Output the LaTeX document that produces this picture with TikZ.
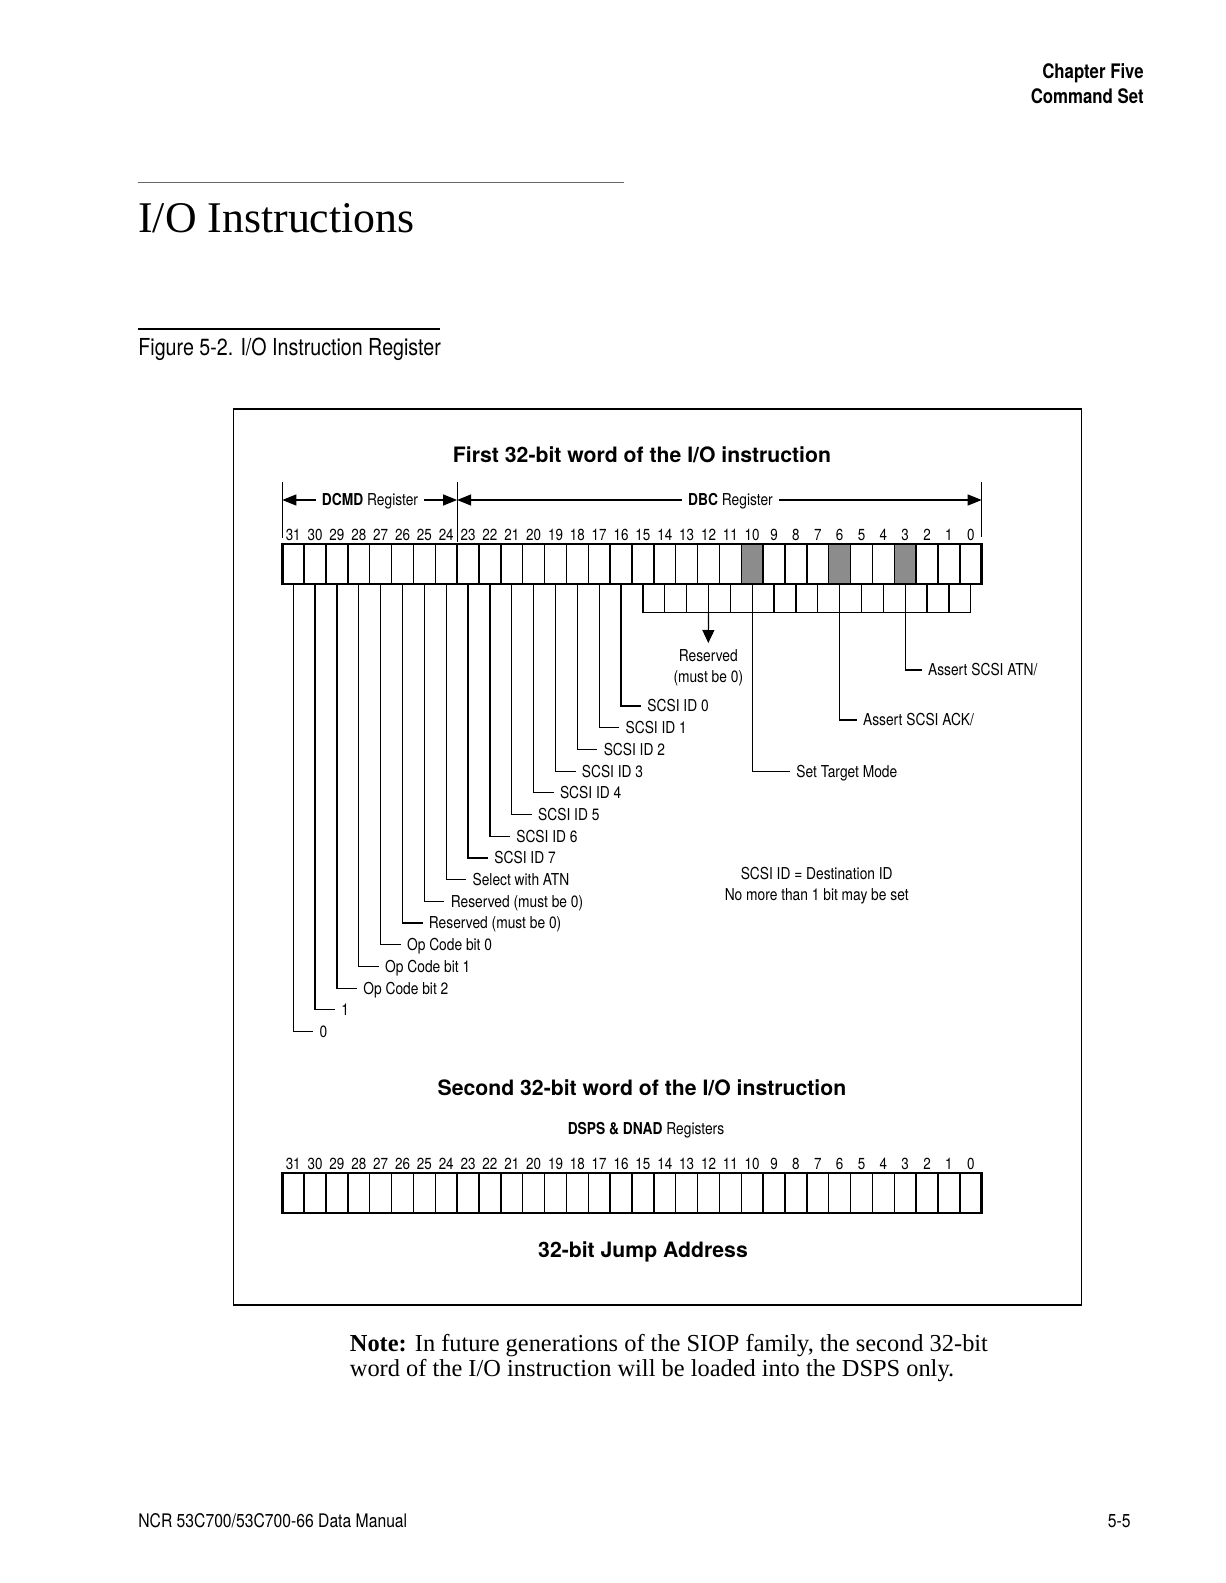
\documentclass[tikz,border=0pt]{standalone}
\usepackage{fontspec}
\setmainfont{Liberation Serif}
\newfontfamily\condfont[FakeStretch=0.84]{TeX Gyre Heros}
\newfontfamily\herosfont{TeX Gyre Heros}
\usetikzlibrary{arrows.meta}

\begin{document}
\begin{tikzpicture}[
    x=0.5pt, y=-0.5pt, >={Triangle[length=7pt,width=5.5pt]},
    cell/.style={draw, line width=0.75pt, minimum width=10.928pt, minimum height=20pt, inner sep=0pt, outer sep=0pt},
    reg/.style={draw, line width=1.3pt},
    lead/.style={line width=0.6pt},
    num/.style={font=\condfont\fontsize{8}{9.6}\selectfont, inner sep=0pt, anchor=base},
    lbl/.style={font=\condfont\fontsize{8.2}{10.35}\selectfont, inner sep=3pt, text height=7.8pt, text depth=1.9pt, anchor=west},
    mlbl/.style={font=\condfont\fontsize{8.2}{10.35}\selectfont, inner sep=3pt, align=center},
    head/.style={font=\herosfont\bfseries\fontsize{10.6}{12.7}\selectfont, inner sep=0pt, anchor=base}
  ]
    \useasboundingbox (0,0) rectangle (1225,1583);
    \fill[white] (0,0) rectangle (1225,1583);

    % --- page header ---
    \node[anchor=base east, inner sep=0pt, font=\condfont\bfseries\fontsize{10}{12}\selectfont] (chap) at (1144,79) {Chapter Five};
    \node[anchor=base east, inner sep=0pt, font=\condfont\bfseries\fontsize{10}{12}\selectfont] (cset) at (1144,103.5) {Command Set};
    \draw[line width=0.5pt, black!60] (138,183) -- (624,183);
    \node[anchor=base west, inner sep=0pt, font=\fontsize{21.9}{26}\selectfont] (sect) at (138,232.3) {I/O Instructions};
    \draw[line width=1.3pt] (138,329) -- (440,329);
    \node[anchor=base west, inner sep=0pt, font=\condfont\fontsize{11.7}{14}\selectfont] (fig) at (138,355.5) {Figure 5-2. I/O Instruction Register};

    % --- frame ---
    \draw[line width=0.8pt] (233.3,409) rectangle (1081.6,1304.8);

    % --- first word ---
    \node[head] (w1) at (642,462) {First 32-bit word of the I/O instruction};
    \foreach \b in {0,...,31}{
      \pgfmathsetmacro\cx{282.3+(31.5-\b)*21.856}
      \pgfmathtruncatemacro\sh{45*or(or(\b==10,\b==6),\b==3)}
      \node[cell, fill=black!\sh] (a\b) at (\cx,564) {};
      \node[num] (na\b) at (\cx,540) {\b};
    }
    \draw[reg] (a31.north west) rectangle (a0.south east);

    % register spans
    \coordinate (tl) at (282.3,482);
    \coordinate (tm) at (457.1,482);
    \coordinate (tr) at (981.7,482);
    \draw[lead] (tl) -- ++(0,56);
    \draw[lead] (tm) -- ++(0,60);
    \draw[lead] (tr) -- ++(0,55);
    \node[lbl, anchor=center] (dcmd) at (370,500) {\textbf{DCMD} Register};
    \node[lbl, anchor=center] (dbc) at (730.5,500) {\textbf{DBC} Register};
    \draw[lead,->] (dcmd.west) -- (dcmd.west -| tl);
    \draw[lead,->] (dcmd.east) -- (dcmd.east -| tm);
    \draw[lead,->] (dbc.west) -- (dbc.west -| tm);
    \draw[lead,->] (dbc.east) -- (dbc.east -| tr);

    % bits 31..16
    \foreach \b/\t in {16/SCSI ID 0, 17/SCSI ID 1, 18/SCSI ID 2, 19/SCSI ID 3,
                       20/SCSI ID 4, 21/SCSI ID 5, 22/SCSI ID 6, 23/SCSI ID 7,
                       24/Select with ATN, 25/Reserved (must be 0), 26/Reserved (must be 0),
                       27/Op Code bit 0, 28/Op Code bit 1, 29/Op Code bit 2, 30/1, 31/0}{
      \pgfmathsetmacro\lx{282.3+(31.5-\b)*21.856+20}
      \pgfmathsetmacro\ly{706+(\b-16)*21.7}
      \node[lbl] (l\b) at (\lx,\ly) {\t};
      \draw[lead] (a\b.south) |- (l\b.west);
    }

    % bits 15..0
    \coordinate (brk) at (0,612.7);
    \foreach \b in {0,...,15}
      \draw[lead] (a\b.south) -- (a\b.south |- brk);
    \draw[lead] (a15.south |- brk) -- (a0.south |- brk);
    \node[mlbl, anchor=north] (rsv) at (708.3,643) {Reserved\\(must be 0)};
    \draw[lead, -{Triangle[length=6.5pt,width=6pt]}] (a12.south |- brk) -- (rsv.north);
    \node[lbl] (stm) at (790,771.7) {Set Target Mode};
    \draw[lead] (a10.south) |- (stm.west);
    \node[lbl] (ack) at (856.7,720) {Assert SCSI ACK/};
    \draw[lead] (a6.south) |- (ack.west);
    \node[lbl] (atn) at (921.7,670) {Assert SCSI ATN/};
    \draw[lead] (a3.south) |- (atn.west);
    \node[mlbl] (idnote) at (816.7,886) {SCSI ID = Destination ID\\No more than 1 bit may be set};

    % --- second word ---
    \node[head] (w2) at (642,1095.6) {Second 32-bit word of the I/O instruction};
    \node[lbl, anchor=center] (dsps) at (646,1129) {\textbf{DSPS \& DNAD} Registers};
    \foreach \b in {0,...,31}{
      \pgfmathsetmacro\cx{282.3+(31.5-\b)*21.856}
      \node[cell] (b\b) at (\cx,1193) {};
      \node[num] (nb\b) at (\cx,1169) {\b};
    }
    \draw[reg] (b31.north west) rectangle (b0.south east);
    \node[head] (jmp) at (643,1257.6) {32-bit Jump Address};

    % --- note and footer ---
    \node[anchor=base west, inner sep=0pt, font=\fontsize{12.2}{15}\selectfont] (note1) at (349.5,1351) {\textbf{Note:} In future generations of the SIOP family, the second 32-bit};
    \node[anchor=base west, inner sep=0pt, font=\fontsize{12.2}{15}\selectfont] (note2) at (349.5,1376) {word of the I/O instruction will be loaded into the DSPS only.};
    \node[anchor=base west, inner sep=0pt, font=\condfont\fontsize{9.35}{11}\selectfont] (foot) at (138,1527) {NCR 53C700/53C700-66 Data Manual};
    \node[anchor=base east, inner sep=0pt, font=\condfont\fontsize{9.35}{11}\selectfont] (pg) at (1131,1527) {5-5};
  \end{tikzpicture}
\end{document}
